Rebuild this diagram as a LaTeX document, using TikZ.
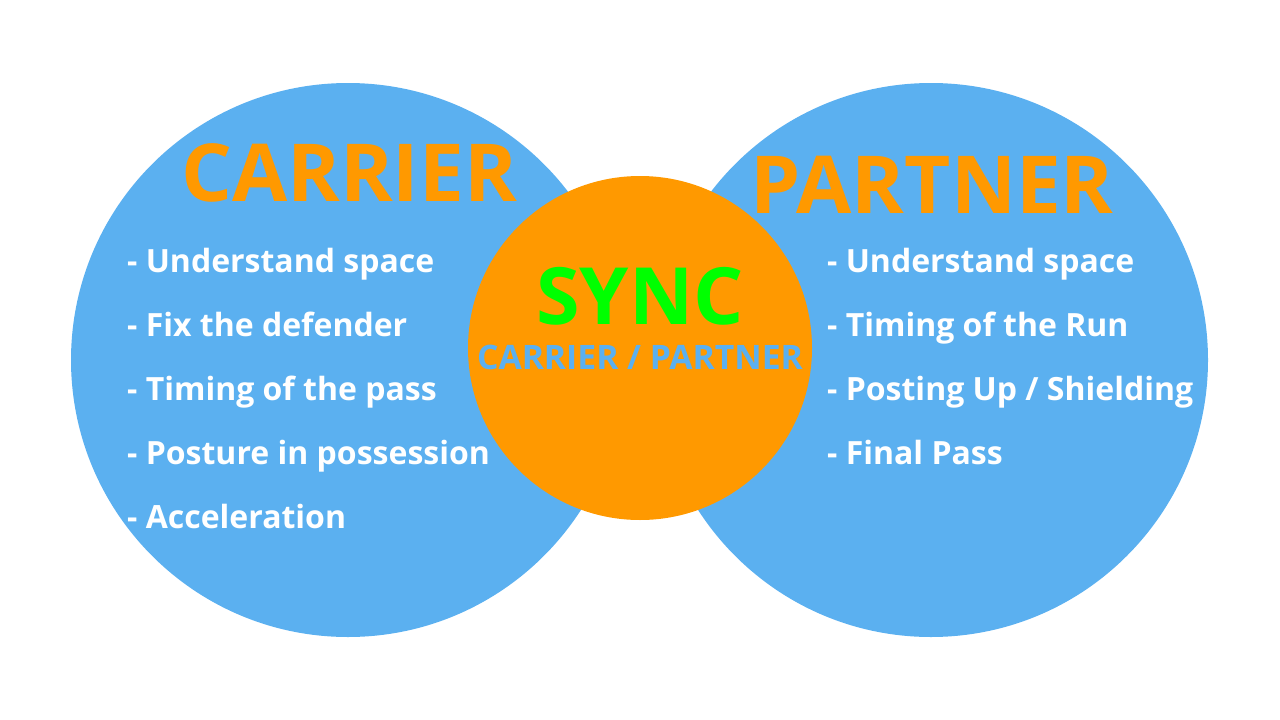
\documentclass[tikz,border=0pt]{standalone}
\usepackage{fontspec}
\setmainfont{Open Sans}
\definecolor{skyblue}{HTML}{5BB0F0}
\definecolor{syncorange}{HTML}{FF9900}
\definecolor{syncgreen}{HTML}{00FF00}
\tikzset{
  title/.style={font=\fontsize{80}{80}\selectfont\bfseries, text=syncorange, inner sep=0pt},
  item/.style={font=\fontsize{32}{32}\selectfont\bfseries, text=white, anchor=base west, inner sep=0pt},
}
\begin{document}
\begin{tikzpicture}[x=1pt,y=-1pt]
    \useasboundingbox (0,0) rectangle (1280,720);
    % Circles
    \fill[skyblue] (348,360) circle (277);
    \fill[skyblue] (931,360) circle (277);
    \fill[syncorange] (640,348) circle (172);
    % Titles
    \node[title, anchor=base] (carrier) at (349,201) {CARRIER};
    \node[title, anchor=base] (partner) at (932,213) {PARTNER};
    \node[title, anchor=base, text=syncgreen, font=\fontsize{79}{79}\selectfont\bfseries] (sync) at (640,324) {SYNC};
    \node[anchor=base, inner sep=0pt, text=skyblue, font=\fontsize{33.7}{33.7}\selectfont\bfseries] (both) at (640,369) {CARRIER / PARTNER};
    % Carrier list
    \node[item] (c1) at (127,272) {- Understand space};
    \node[item] (c2) at (127,336) {- Fix the defender};
    \node[item] (c3) at (127,400) {- Timing of the pass};
    \node[item] (c4) at (127,464) {- Posture in possession};
    \node[item] (c5) at (127,528) {- Acceleration};
    % Partner list
    \node[item] (p1) at (827,272) {- Understand space};
    \node[item] (p2) at (827,336) {- Timing of the Run};
    \node[item] (p3) at (827,400) {- Posting Up / Shielding};
    \node[item] (p4) at (827,464) {- Final Pass};
\end{tikzpicture}
\end{document}
